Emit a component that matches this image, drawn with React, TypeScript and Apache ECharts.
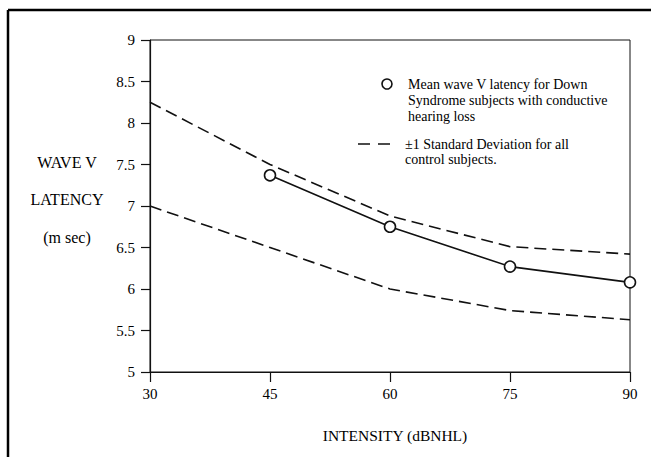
import React, { useEffect, useRef } from "react";
import * as echarts from "echarts";

const intensities = [30, 45, 60, 75, 90];
const meanLatency: (number | null)[] = [null, 7.37, 6.75, 6.27, 6.08];
const upperSD = [8.25, 7.5, 6.88, 6.51, 6.42];
const lowerSD = [7.0, 6.5, 6.0, 5.74, 5.63];

const legendMeanLines = [
  "Mean wave V latency for Down",
  "Syndrome subjects with conductive",
  "hearing loss",
];
const legendSDLines = ["\u00B11 Standard Deviation for all", "control subjects."];
const yNameLines = ["WAVE V", "LATENCY", "(m sec)"];
const xName = "INTENSITY (dBNHL)";

const FONT = "'Liberation Serif', 'Times New Roman', serif";
const INK = "#000";

export default function App() {
  const ref = useRef<HTMLDivElement>(null);
  useEffect(() => {
    if (!ref.current) return;
    const chart = echarts.init(ref.current, undefined, { renderer: "svg" });
    const pair = (vals: (number | null)[]) => intensities.map((x, i) => [x, vals[i]]);
    chart.setOption({
      animation: false,
      backgroundColor: "#fff",
      grid: {
        left: 150,
        top: 40,
        width: 480,
        height: 332,
        show: true,
        borderColor: "#111",
        borderWidth: 1,
        backgroundColor: "transparent",
      },
      xAxis: {
        type: "value",
        min: 30,
        max: 90,
        interval: 15,
        name: xName,
        nameLocation: "middle",
        nameGap: 55,
        nameTextStyle: { fontFamily: FONT, fontSize: 15.5, color: INK, padding: [0, 0, 0, 10] },
        axisLine: { show: true, lineStyle: { color: "#111", width: 1.2 } },
        axisTick: { show: true, inside: false, length: 10, lineStyle: { color: "#111", width: 1.2 } },
        axisLabel: { fontFamily: FONT, fontSize: 15, color: INK, margin: 14 },
        splitLine: { show: false },
      },
      yAxis: {
        type: "value",
        min: 5,
        max: 9,
        interval: 0.5,
        axisLine: { show: true, lineStyle: { color: "#111", width: 1.2 } },
        axisTick: { show: true, inside: false, length: 9, lineStyle: { color: "#111", width: 1.2 } },
        axisLabel: { fontFamily: FONT, fontSize: 15, color: INK, margin: 15 },
        splitLine: { show: false },
      },
      series: [
        {
          name: "+1 SD",
          type: "line",
          data: pair(upperSD),
          showSymbol: false,
          symbol: "none",
          lineStyle: { color: "#111", width: 1.6, type: [12, 6] },
        },
        {
          name: "-1 SD",
          type: "line",
          data: pair(lowerSD),
          showSymbol: false,
          symbol: "none",
          lineStyle: { color: "#111", width: 1.6, type: [12, 6] },
        },
        {
          name: "Mean",
          type: "line",
          data: pair(meanLatency),
          symbol: "circle",
          symbolSize: 11,
          itemStyle: { color: "#fff", borderColor: "#111", borderWidth: 1.6 },
          lineStyle: { color: "#111", width: 1.6 },
          z: 5,
        },
      ],
      graphic: [
        { type: "line", shape: { x1: 8, y1: 10, x2: 651, y2: 10 }, style: { stroke: "#000", lineWidth: 2.5 } },
        { type: "line", shape: { x1: 8, y1: 10, x2: 8, y2: 457 }, style: { stroke: "#000", lineWidth: 2.5 } },
        ...yNameLines.map((t, i) => ({
          type: "text",
          x: 67,
          y: 162 + i * 37.5,
          style: {
            text: t,
            fontFamily: FONT,
            fontSize: 16,
            fill: INK,
            textAlign: "center",
            textVerticalAlign: "middle",
          },
        })),
        {
          type: "circle",
          shape: { cx: 387, cy: 84, r: 5 },
          style: { fill: "#fff", stroke: "#111", lineWidth: 1.6 },
        },
        ...legendMeanLines.map((t, i) => ({
          type: "text",
          x: 408,
          y: 84 + i * 16,
          style: { text: t, fontFamily: FONT, fontSize: 14, fill: INK, textVerticalAlign: "middle" },
        })),
        {
          type: "line",
          shape: { x1: 358, y1: 144, x2: 392, y2: 144 },
          style: { stroke: "#111", lineWidth: 1.6, lineDash: [12, 8] },
        },
        ...legendSDLines.map((t, i) => ({
          type: "text",
          x: 405,
          y: 144 + i * 15,
          style: { text: t, fontFamily: FONT, fontSize: 14, fill: INK, textVerticalAlign: "middle" },
        })),
      ],
    });
    return () => chart.dispose();
  }, []);
  return (
    <div
      ref={ref}
      style={{ position: "fixed", left: 0, top: 0, width: 651, height: 457, background: "#fff" }}
    />
  );
}
